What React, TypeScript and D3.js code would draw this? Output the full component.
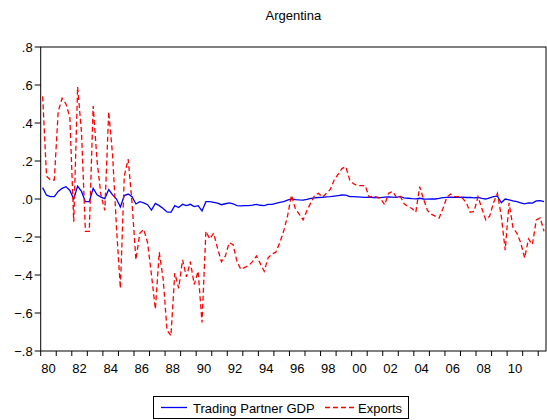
import * as d3 from "d3";

// quarterly data, 1980Q1 .. 2012Q2
const startYear = 1980;
const country = "Argentina";
const seriesNames = ["Trading Partner GDP", "Exports"];

const gdp = [
  0.06, 0.02, 0.013, 0.013, 0.04, 0.056, 0.065, 0.045, 0.0, 0.068,
  0.04, -0.014, -0.014, 0.056, 0.022, 0.01, 0.002, 0.05, 0.022, 0.0,
  -0.042, 0.018, 0.026, 0.012, -0.026, -0.014, -0.02, -0.03, -0.058, -0.023,
  -0.035, -0.05, -0.068, -0.07, -0.035, -0.045, -0.028, -0.035, -0.028, -0.04,
  -0.035, -0.063, -0.014, -0.014, -0.018, -0.022, -0.03, -0.025, -0.02, -0.025,
  -0.035, -0.036, -0.035, -0.035, -0.032, -0.028, -0.033, -0.035, -0.028, -0.028,
  -0.023, -0.018, -0.014, -0.006, 0.0, -0.003, -0.005, -0.006, -0.002, 0.003,
  0.006, 0.008, 0.009, 0.011, 0.012, 0.015, 0.018, 0.021, 0.02, 0.013,
  0.012, 0.011, 0.01, 0.009, 0.01, 0.008, 0.009, 0.007, 0.01, 0.011,
  0.01, 0.009, 0.012, 0.006, 0.004, 0.002, 0.001, 0.004, 0.0, -0.001,
  0.0, 0.0, 0.003, 0.007, 0.009, 0.01, 0.009, 0.009, 0.01, 0.008,
  0.009, 0.006, 0.008, 0.003, 0.0, 0.006, 0.012, 0.015, -0.02, 0.0,
  -0.005, -0.01, -0.014, -0.02, -0.026, -0.02, -0.022, -0.01, -0.009, -0.014,
];

const exportsVals = [
  0.54, 0.12, 0.1, 0.1, 0.46, 0.53, 0.5, 0.43, -0.12, 0.59,
  0.35, -0.17, -0.17, 0.49, 0.2, 0.02, -0.06, 0.46, 0.23, -0.15,
  -0.47, 0.12, 0.21, -0.02, -0.32, -0.18, -0.16, -0.23, -0.4, -0.58,
  -0.28, -0.42, -0.69, -0.72, -0.39, -0.47, -0.32, -0.41, -0.33, -0.45,
  -0.38, -0.65, -0.17, -0.21, -0.18, -0.26, -0.33, -0.3, -0.23, -0.24,
  -0.33, -0.37, -0.36, -0.35, -0.33, -0.3, -0.34, -0.38, -0.31, -0.29,
  -0.28, -0.23, -0.17, -0.09, 0.02, -0.05, -0.08, -0.11, -0.06, -0.02,
  0.02, 0.03, 0.01, 0.03, 0.05, 0.1, 0.13, 0.16, 0.17, 0.1,
  0.08, 0.07, 0.07, 0.07, 0.01, 0.015, 0.01, 0.0, -0.03, 0.03,
  0.04, 0.01, 0.015, -0.025, -0.04, -0.05, -0.07, 0.065, 0.0, -0.06,
  -0.08, -0.09, -0.1, -0.05, 0.01, 0.026, 0.012, 0.012, 0.005, -0.02,
  -0.07, -0.065, 0.012, -0.05, -0.11, -0.09, -0.02, 0.03, -0.09, -0.27,
  -0.02, -0.15, -0.18, -0.23, -0.31, -0.21, -0.24, -0.11, -0.1, -0.17,
];

const yTicks = [0.8, 0.6, 0.4, 0.2, 0, -0.2, -0.4, -0.6, -0.8];
const xLabelYears = d3.range(1980, 2011, 2);

const width = 547;
const height = 420;
const margin = { top: 47, right: 1, bottom: 69, left: 40.7 };
const font = "Arial, 'Liberation Sans', sans-serif";

const fmtY = (v: number) => {
  const s = d3.format(".1f")(v);
  return s.replace("0.", ".").replace("-.0", ".0");
};

export default function App() {
  const x = d3
    .scaleLinear()
    .domain([startYear, startYear + gdp.length / 4])
    .range([margin.left, width - margin.right]);
  const y = d3
    .scaleLinear()
    .domain([-0.8, 0.8])
    .range([height - margin.bottom, margin.top]);

  const t = (i: number) => startYear + (i + 0.5) / 4;
  const line = d3
    .line<number>()
    .x((_, i) => x(t(i)))
    .y((d) => y(d));

  const yearTicks = d3.range(startYear, startYear + Math.floor(gdp.length / 4) + 1);
  const bottom = height - margin.bottom;

  return (
    <svg
      width={width}
      height={height}
      style={{ position: "absolute", left: 0, top: 0, background: "#fff" }}
      fontFamily={font}
    >
      <rect x={0} y={0} width={width} height={height} fill="#fff" />
      <text x={(x.range()[0] + x.range()[1]) / 2} y={20} textAnchor="middle" fontSize={13}>
        {country}
      </text>

      {/* y axis */}
      {yTicks.map((v) => (
        <g key={v}>
          <line x1={margin.left - 6} x2={margin.left} y1={y(v)} y2={y(v)} stroke="#000" />
          <text x={margin.left - 8} y={y(v)} dy="0.35em" textAnchor="end" fontSize={13}>
            {fmtY(v)}
          </text>
        </g>
      ))}

      {/* x axis */}
      {yearTicks.map((yr) => (
        <line key={yr} x1={x(yr)} x2={x(yr)} y1={bottom} y2={bottom + 5} stroke="#000" />
      ))}
      {xLabelYears.map((yr) => (
        <text key={yr} x={x(yr + 0.5)} y={bottom + 22} textAnchor="middle" fontSize={13}>
          {String(yr % 100).padStart(2, "0")}
        </text>
      ))}

      <path d={line(gdp) || ""} fill="none" stroke="#0000ff" strokeWidth={1.3} />
      <path
        d={line(exportsVals) || ""}
        fill="none"
        stroke="#ff0000"
        strokeWidth={1.3}
        strokeDasharray="5 3"
      />

      <rect
        x={margin.left}
        y={margin.top}
        width={x.range()[1] - margin.left}
        height={bottom - margin.top}
        fill="none"
        stroke="#000"
      />

      {/* legend */}
      <g>
        <rect x={153.5} y={396.5} width={255} height={22} fill="#fff" stroke="#000" />
        <line x1={161} x2={187} y1={407.5} y2={407.5} stroke="#0000ff" strokeWidth={1.3} />
        <text x={193} y={412.5} fontSize={13}>
          {seriesNames[0]}
        </text>
        <line
          x1={325}
          x2={354}
          y1={407.5}
          y2={407.5}
          stroke="#ff0000"
          strokeWidth={1.3}
          strokeDasharray="5 3"
        />
        <text x={358} y={412.5} fontSize={13}>
          {seriesNames[1]}
        </text>
      </g>
    </svg>
  );
}
